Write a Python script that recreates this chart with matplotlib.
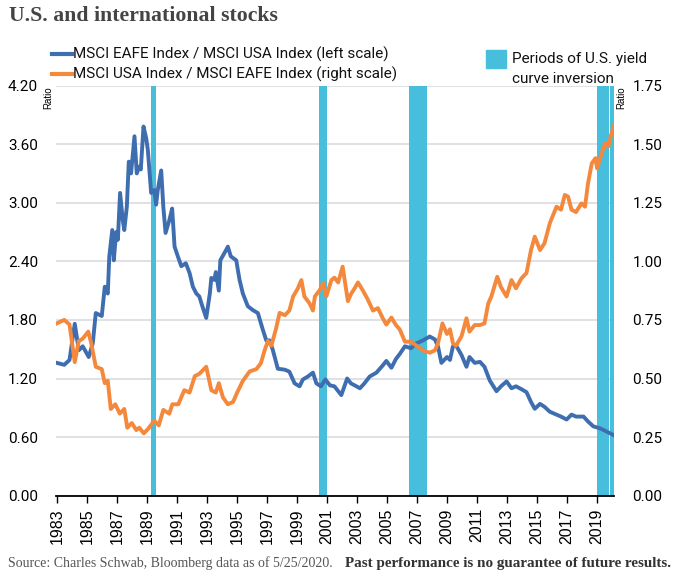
import matplotlib
matplotlib.use("Agg")
import matplotlib.pyplot as plt
from matplotlib.lines import Line2D
from matplotlib.patches import Rectangle
from matplotlib import font_manager

# ---------------- data ----------------
eafe_usa_years = [1983.0, 1983.5, 1983.85, 1984.2, 1984.47, 1984.73, 1985.13, 1985.4, 1985.6, 1986.0,
                  1986.2, 1986.4, 1986.5, 1986.7, 1986.8, 1986.96, 1987.07, 1987.22, 1987.4, 1987.5,
                  1987.67, 1987.8, 1987.95, 1988.18, 1988.33, 1988.5, 1988.6, 1988.78, 1988.96, 1989.07,
                  1989.29, 1989.5, 1989.62, 1989.73, 1989.96, 1990.1, 1990.25, 1990.5, 1990.69, 1990.85,
                  1991.07, 1991.3, 1991.6, 1991.85, 1992.07, 1992.3, 1992.5, 1992.7, 1992.96, 1993.2,
                  1993.3, 1993.5, 1993.6, 1993.8, 1993.9, 1994.3, 1994.4, 1994.6, 1994.96, 1995.18,
                  1995.4, 1995.73, 1996.07, 1996.4, 1996.73, 1996.96, 1997.18, 1997.4, 1997.73, 1998.2,
                  1998.5, 1998.85, 1999.18, 1999.4, 1999.73, 2000.07, 2000.3, 2000.6, 2000.9, 2001.2,
                  2001.5, 2001.96, 2002.35, 2002.6, 2002.85, 2003.2, 2003.5, 2003.85, 2004.3, 2004.7,
                  2004.96, 2005.3, 2005.6, 2005.85, 2006.2, 2006.6, 2006.97, 2007.4, 2007.85, 2008.2,
                  2008.4, 2008.63, 2009.0, 2009.2, 2009.4, 2009.6, 2009.97, 2010.3, 2010.5, 2010.85,
                  2011.2, 2011.5, 2011.85, 2012.3, 2012.6, 2012.97, 2013.3, 2013.6, 2013.97, 2014.3,
                  2014.6, 2014.85, 2015.2, 2015.5, 2015.85, 2016.3, 2016.6, 2016.97, 2017.3, 2017.6,
                  2018.1, 2018.4, 2018.75, 2019.2, 2019.6, 2020.1]
eafe_usa_values = [1.36, 1.34, 1.39, 1.76, 1.49, 1.53, 1.42, 1.56, 1.87, 1.84,
                   2.14, 2.07, 2.45, 2.72, 2.41, 2.70, 2.62, 3.10, 2.82, 2.72,
                   2.96, 3.42, 3.30, 3.68, 3.30, 3.37, 3.34, 3.78, 3.66, 3.54,
                   3.10, 3.13, 2.98, 3.13, 3.33, 2.96, 2.69, 2.82, 2.94, 2.55,
                   2.45, 2.35, 2.38, 2.28, 2.14, 2.07, 2.04, 1.94, 1.82, 2.07,
                   2.23, 2.21, 2.29, 2.10, 2.41, 2.52, 2.55, 2.45, 2.41, 2.21,
                   2.07, 1.94, 1.90, 1.87, 1.70, 1.59, 1.59, 1.49, 1.30, 1.29,
                   1.27, 1.15, 1.12, 1.19, 1.22, 1.26, 1.15, 1.12, 1.19, 1.13,
                   1.12, 1.03, 1.20, 1.15, 1.13, 1.10, 1.15, 1.22, 1.26, 1.33,
                   1.38, 1.31, 1.40, 1.45, 1.53, 1.51, 1.56, 1.59, 1.63, 1.60,
                   1.53, 1.36, 1.42, 1.39, 1.53, 1.54, 1.44, 1.32, 1.42, 1.36,
                   1.37, 1.32, 1.18, 1.07, 1.12, 1.17, 1.10, 1.12, 1.09, 1.06,
                   0.96, 0.89, 0.94, 0.91, 0.86, 0.83, 0.81, 0.78, 0.83, 0.81,
                   0.81, 0.76, 0.71, 0.69, 0.66, 0.62]

usa_eafe_years = [1983.0, 1983.5, 1983.85, 1984.2, 1984.47, 1984.73, 1985.1, 1985.3, 1985.6, 1986.0,
                  1986.2, 1986.4, 1986.6, 1986.9, 1987.2, 1987.5, 1987.7, 1988.0, 1988.3, 1988.5,
                  1988.8, 1989.1, 1989.5, 1989.8, 1990.1, 1990.5, 1990.7, 1991.1, 1991.5, 1991.85,
                  1992.2, 1992.5, 1992.96, 1993.3, 1993.6, 1993.8, 1994.07, 1994.4, 1994.75, 1995.0,
                  1995.4, 1995.85, 1996.3, 1996.6, 1996.85, 1997.07, 1997.3, 1997.6, 1997.85, 1998.2,
                  1998.5, 1998.75, 1999.07, 1999.3, 1999.5, 1999.85, 2000.07, 2000.2, 2000.5, 2000.75,
                  2000.96, 2001.3, 2001.5, 2001.75, 2002.05, 2002.4, 2002.6, 2002.85, 2003.07, 2003.4,
                  2003.7, 2004.07, 2004.4, 2004.7, 2004.96, 2005.3, 2005.6, 2005.85, 2006.2, 2006.6,
                  2006.97, 2007.4, 2007.85, 2008.2, 2008.4, 2008.7, 2009.0, 2009.2, 2009.4, 2009.6,
                  2009.97, 2010.3, 2010.5, 2010.85, 2011.2, 2011.5, 2011.75, 2011.96, 2012.35, 2012.6,
                  2012.97, 2013.3, 2013.6, 2013.96, 2014.3, 2014.6, 2014.85, 2015.2, 2015.5, 2015.85,
                  2016.3, 2016.6, 2016.85, 2017.07, 2017.3, 2017.6, 2017.96, 2018.2, 2018.4, 2018.65,
                  2018.9, 2019.0, 2019.3, 2019.55, 2019.75, 2019.96, 2020.13]
usa_eafe_values = [0.735, 0.75, 0.73, 0.57, 0.66, 0.67, 0.70, 0.65, 0.55, 0.54,
                   0.48, 0.49, 0.37, 0.39, 0.35, 0.37, 0.29, 0.31, 0.28, 0.29,
                   0.266, 0.286, 0.32, 0.30, 0.366, 0.35, 0.39, 0.39, 0.45, 0.44,
                   0.51, 0.52, 0.55, 0.45, 0.44, 0.48, 0.42, 0.39, 0.40, 0.437,
                   0.49, 0.53, 0.54, 0.565, 0.62, 0.66, 0.64, 0.71, 0.78, 0.77,
                   0.79, 0.85, 0.885, 0.92, 0.85, 0.82, 0.79, 0.85, 0.875, 0.906,
                   0.85, 0.92, 0.93, 0.91, 0.977, 0.83, 0.86, 0.885, 0.91, 0.875,
                   0.84, 0.79, 0.80, 0.76, 0.73, 0.76, 0.728, 0.71, 0.657, 0.657,
                   0.64, 0.62, 0.61, 0.62, 0.65, 0.735, 0.69, 0.71, 0.65, 0.64,
                   0.68, 0.757, 0.70, 0.728, 0.728, 0.735, 0.82, 0.85, 0.934, 0.89,
                   0.85, 0.92, 0.885, 0.927, 0.95, 1.048, 1.105, 1.048, 1.077, 1.162,
                   1.233, 1.22, 1.283, 1.276, 1.22, 1.21, 1.247, 1.233, 1.333, 1.418,
                   1.44, 1.397, 1.46, 1.504, 1.49, 1.546, 1.58]

inversion_starts = [1989.25, 2000.45, 2006.47, 2019.02, 2019.87]
inversion_ends = [1989.63, 2001.03, 2007.69, 2019.80, 2020.2]

left_ticks = [0.00, 0.60, 1.20, 1.80, 2.40, 3.00, 3.60, 4.20]
right_ticks = [0.00, 0.25, 0.50, 0.75, 1.00, 1.25, 1.50, 1.75]
year_ticks = list(range(1983, 2020, 2))

title_text = "U.S. and international stocks"
label_blue = "MSCI EAFE Index / MSCI USA Index (left scale)"
label_orange = "MSCI USA Index / MSCI EAFE Index (right scale)"
source_text = "Source: Charles Schwab, Bloomberg data as of 5/25/2020."
disclaimer_text = "Past performance is no guarantee of future results."

# ---------------- style ----------------
BLUE = "#3F6EB0"
ORANGE = "#F4883C"
BAR = "#47BEDB"
GRID = "#D9DCE0"

avail = {f.name for f in font_manager.fontManager.ttflist}
narrow = "Liberation Sans Narrow" if "Liberation Sans Narrow" in avail else "Roboto"

W, H = 678, 584
fig = plt.figure(figsize=(W / 100, H / 100), dpi=100)
fig.patch.set_facecolor("white")

L, R, T, B = 56.0, 614.3, 85.5, 495.7
ax = fig.add_axes([L / W, 1 - B / H, (R - L) / W, (B - T) / H])
ax2 = ax.twinx()

ax.set_xlim(1982.95, 2020.15)
ax.set_ylim(0, 4.2)
ax2.set_ylim(0, 1.75)

for s, e in zip(inversion_starts, inversion_ends):
    ax.axvspan(s, e, color=BAR, lw=0, zorder=1)

ax.set_yticks(left_ticks)
ax.set_yticklabels([f"{v:.2f}" for v in left_ticks])
ax2.set_yticks(right_ticks)
ax2.set_yticklabels([f"{v:.2f}" for v in right_ticks])
ax.yaxis.grid(True, color=GRID, lw=1.2, zorder=0)
ax.set_axisbelow(True)

ax.plot(eafe_usa_years, eafe_usa_values, color=BLUE, lw=2.8, zorder=3, solid_joinstyle="round")
ax2.plot(usa_eafe_years, usa_eafe_values, color=ORANGE, lw=2.8, zorder=3, solid_joinstyle="round")

ax.set_xticks(year_ticks)
ax.set_xticklabels([str(y) for y in year_ticks], rotation=90, fontsize=11.5,
                   family="Liberation Sans")
ax.tick_params(axis="x", length=5, width=1, color="black", pad=4)
ax.tick_params(axis="y", length=0, pad=13, labelsize=11)
ax2.tick_params(axis="y", length=0, pad=13, labelsize=11)
for lab in ax.get_yticklabels() + ax2.get_yticklabels():
    lab.set_family("Roboto")

for a in (ax, ax2):
    for sp in ("top", "left", "right", "bottom"):
        a.spines[sp].set_visible(False)
ax.spines["bottom"].set_visible(True)
ax.spines["bottom"].set_color("black")
ax.spines["bottom"].set_linewidth(1.3)
ax.spines["bottom"].set_zorder(5)

fig.text(48.5 / W, 1 - 98 / H, "Ratio", rotation=90, fontsize=7, ha="center", va="center",
         family="Liberation Sans")
fig.text(621 / W, 1 - 98 / H, "Ratio", rotation=90, fontsize=7, ha="center", va="center",
         family="Liberation Sans")

renderer = fig.canvas.get_renderer()


def fit_text(x, y, s, target_w, size, **kw):
    t = fig.text(x / W, 1 - y / H, s, fontsize=size, **kw)
    w = t.get_window_extent(renderer).width
    t.set_fontsize(size * target_w / w)
    return t


fit_text(9.3, 16, title_text, 268, 14, family="Liberation Serif", weight="bold",
         color="#444444", va="center", ha="left")

# legend (lines)
fig.add_artist(Line2D([51.5 / W, 72 / W], [1 - 54.3 / H] * 2, color=BLUE, lw=3,
                      transform=fig.transFigure))
fig.add_artist(Line2D([51.5 / W, 72 / W], [1 - 74 / H] * 2, color=ORANGE, lw=3,
                      transform=fig.transFigure))
fit_text(72.7, 54.3, label_blue, 315, 12, family=narrow, va="center", ha="left", color="#111111")
fit_text(72.7, 74, label_orange, 324, 12, family=narrow, va="center", ha="left", color="#111111")

# legend (bars)
fig.add_artist(Rectangle((486 / W, 1 - 68 / H), 20 / W, 18 / H, color=BAR,
                         transform=fig.transFigure))
t1 = fit_text(511.7, 59, "Periods of U.S. yield", 135, 12, family=narrow, va="center",
              ha="left", color="#111111")
fig.text(511.7 / W, 1 - 79 / H, "curve inversion", fontsize=t1.get_fontsize(), family=narrow,
         va="center", ha="left", color="#111111")

# source line
fit_text(8, 563, source_text, 325, 9, family="Liberation Serif", va="center", ha="left",
         color="#555555")
fit_text(345, 563, disclaimer_text, 327, 9, family="Liberation Serif", weight="bold",
         va="center", ha="left", color="#333333")

fig.savefig("out.png", dpi=100, facecolor="white")
